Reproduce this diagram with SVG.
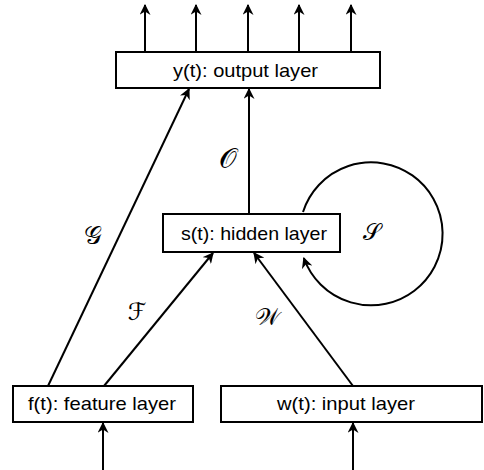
<svg xmlns="http://www.w3.org/2000/svg" width="484" height="470" viewBox="0 0 484 470">
<style>
.box{fill:#fff;stroke:#000;stroke-width:2}
.lbl{font-family:"Liberation Sans",Arial,sans-serif;font-size:19px;fill:#000}
.edge{stroke:#000;stroke-width:2;fill:none;marker-end:url(#ah)}
.math{font-family:"DejaVu Serif","DejaVu Sans",serif;fill:#000;text-anchor:middle;dominant-baseline:central}
</style>
<defs>
<marker id="ah" viewBox="0 0 10 10" refX="9" refY="5" markerWidth="11" markerHeight="11" markerUnits="userSpaceOnUse" orient="auto">
<path d="M0,0 L10,5 L0,10 L3,5 z" fill="#000"/>
</marker>
</defs>
<g id="connectors">
<line class="edge" x1="145" y1="52" x2="145" y2="5"/>
<line class="edge" x1="196" y1="52" x2="196" y2="5"/>
<line class="edge" x1="248" y1="52" x2="248" y2="5"/>
<line class="edge" x1="299" y1="52" x2="299" y2="5"/>
<line class="edge" x1="351" y1="52" x2="351" y2="5"/>
<line class="edge" x1="249" y1="214" x2="249" y2="89"/>
<line class="edge" x1="48" y1="386" x2="189" y2="89"/>
<line class="edge" x1="104" y1="386" x2="213" y2="253"/>
<line class="edge" x1="353" y1="386" x2="254" y2="253"/>
<line class="edge" x1="103" y1="470" x2="103" y2="423"/>
<line class="edge" x1="353" y1="470" x2="353" y2="423"/>
<path class="edge" d="M303,212 A71.5,71.5 0 1 1 303.8,258"/>
</g>
<g id="output-layer">
<rect class="box" x="116" y="52" width="264" height="36"/>
<text class="lbl" x="173" y="77" textLength="145" lengthAdjust="spacingAndGlyphs">y(t): output layer</text>
</g>
<g id="hidden-layer">
<rect class="box" x="163" y="214" width="177" height="38"/>
<text class="lbl" x="181" y="240" textLength="146" lengthAdjust="spacingAndGlyphs">s(t): hidden layer</text>
</g>
<g id="feature-layer">
<rect class="box" x="13" y="386" width="180" height="36"/>
<text class="lbl" x="28" y="410" textLength="148" lengthAdjust="spacingAndGlyphs">f(t): feature layer</text>
</g>
<g id="input-layer">
<rect class="box" x="221" y="386" width="261" height="36"/>
<text class="lbl" x="277" y="410" textLength="138" lengthAdjust="spacingAndGlyphs">w(t): input layer</text>
</g>
<g id="labels">
<text class="math" x="228" y="158" font-size="28">𝒪</text>
<text class="math" x="372" y="232" font-size="23">𝒮</text>
<text class="math" x="93" y="235" font-size="25">𝒢</text>
<text class="math" x="137" y="312" font-size="24">ℱ</text>
<text class="math" x="267" y="317" font-size="24">𝒲</text>
</g>
</svg>
